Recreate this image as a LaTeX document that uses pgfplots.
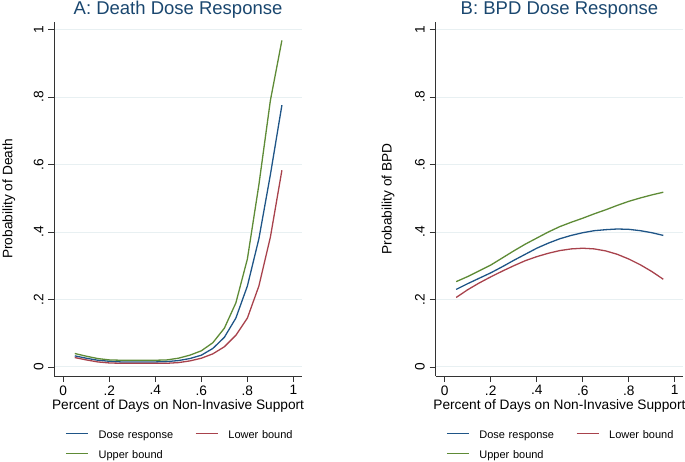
\documentclass[border=0pt]{standalone}
\usepackage{fontspec}
\setmainfont{Liberation Sans}
\usepackage{pgfplots}
\pgfplotsset{compat=1.18}
\definecolor{cblue}{HTML}{1F5587}
\definecolor{cred}{HTML}{A8424C}
\definecolor{cgreen}{HTML}{5E8B36}
\definecolor{ctitle}{HTML}{1A476F}
\definecolor{cgrid}{HTML}{E8F0F2}
\pgfplotsset{
  stata/.style={
    scale only axis, width=247.5pt, height=354pt,
    anchor=south west,
    xmin=-0.039, xmax=1.0365, ymin=-0.0267, ymax=1.0225,
    axis x line*=bottom, axis y line*=left,
    axis line style={black!80, line width=0.8pt, -},
    xtick={0,0.2,0.4,0.6,0.8,1}, xticklabels={0,.2,.4,.6,.8,1},
    ytick={0,0.2,0.4,0.6,0.8,1}, yticklabels={0,.2,.4,.6,.8,1},
    tick align=outside, major tick length=6pt,
    tick style={black!80, line width=0.8pt},
    ymajorgrids, grid style={cgrid, line width=1pt},
    ticklabel style={font=\fontsize{13.7}{14}\selectfont, black},
    yticklabel style={rotate=90, anchor=base},
    yticklabel shift=5pt,
    label style={font=\fontsize{13.7}{14}\selectfont, black},
    xlabel style={at={(axis description cs:0.5,-0.0946)}, anchor=base},
    every axis title shift=0pt,
    title style={at={(axis description cs:0.5,1.021)}, anchor=base, yshift=0pt, inner sep=0pt, text depth=0pt, font=\fontsize{18.5}{19}\selectfont, text=ctitle},
    legend columns=2,
    legend style={draw=none, fill=none, inner sep=0pt, outer sep=0pt,
      anchor=north west, row sep=9.5pt,
      font=\fontsize{11}{12}\selectfont,
      nodes={inner sep=0pt, text height=8pt, text depth=2.5pt, text width=86.5pt, anchor=west},
      /tikz/every odd column/.append style={column sep=10pt},
      /tikz/every even column/.append style={column sep=10pt}},
  },
  curve/.style={line width=1.3pt, mark=none, draw=#1,
    legend image code/.code={\draw[line width=1.3pt, draw=#1] (0pt,2.3pt) -- (22pt,2.3pt);}},
}
\begin{document}
\begin{tikzpicture}
\useasboundingbox (0,0) rectangle (685pt,461pt);
\begin{axis}[stata, at={(54.3pt,85pt)},
  title={A: Death Dose Response},
  xlabel={Percent of Days on Non-Invasive Support},
  ylabel={Probability of Death},
  ylabel style={at={(axis description cs:-0.169,0.5)}, anchor=base},
  legend style={at={(axis description cs:0.0444,-0.1534)}}]
\addplot[curve=cblue] coordinates {(0.05,0.033) (0.1,0.026) (0.15,0.020) (0.2,0.017) (0.25,0.015) (0.3,0.015) (0.35,0.015) (0.4,0.015) (0.45,0.016) (0.5,0.019) (0.55,0.025) (0.6,0.035) (0.65,0.055) (0.7,0.088) (0.75,0.145) (0.8,0.24) (0.85,0.38) (0.9,0.57) (0.95,0.776)};
\addlegendentry{Dose response}
\addplot[curve=cred] coordinates {(0.05,0.028) (0.1,0.021) (0.15,0.015) (0.2,0.012) (0.25,0.011) (0.3,0.011) (0.35,0.011) (0.4,0.011) (0.45,0.011) (0.5,0.013) (0.55,0.018) (0.6,0.026) (0.65,0.039) (0.7,0.06) (0.75,0.094) (0.8,0.145) (0.85,0.24) (0.9,0.385) (0.95,0.583)};
\addlegendentry{Lower bound}
\addplot[curve=cgreen] coordinates {(0.05,0.040) (0.1,0.032) (0.15,0.025) (0.2,0.021) (0.25,0.020) (0.3,0.020) (0.35,0.020) (0.4,0.020) (0.45,0.021) (0.5,0.026) (0.55,0.035) (0.6,0.048) (0.65,0.072) (0.7,0.115) (0.75,0.19) (0.8,0.32) (0.85,0.54) (0.9,0.79) (0.95,0.968)};
\addlegendentry{Upper bound}
\end{axis}
\begin{axis}[stata, at={(435.7pt,85pt)},
  title={B: BPD Dose Response},
  xlabel={Percent of Days on Non-Invasive Support},
  ylabel={Probability of BPD},
  ylabel style={at={(axis description cs:-0.178,0.5)}, anchor=base},
  legend style={at={(axis description cs:0.042,-0.1534)}}]
\addplot[curve=cblue] coordinates {(0.05,0.230) (0.1,0.247) (0.15,0.263) (0.2,0.279) (0.25,0.297) (0.3,0.316) (0.35,0.334) (0.4,0.352) (0.45,0.367) (0.5,0.380) (0.55,0.390) (0.6,0.398) (0.65,0.404) (0.7,0.407) (0.75,0.409) (0.8,0.408) (0.85,0.404) (0.9,0.398) (0.95,0.390)};
\addlegendentry{Dose response}
\addplot[curve=cred] coordinates {(0.05,0.206) (0.1,0.229) (0.15,0.249) (0.2,0.267) (0.25,0.284) (0.3,0.300) (0.35,0.315) (0.4,0.327) (0.45,0.337) (0.5,0.345) (0.55,0.350) (0.6,0.352) (0.65,0.350) (0.7,0.344) (0.75,0.334) (0.8,0.320) (0.85,0.303) (0.9,0.283) (0.95,0.260)};
\addlegendentry{Lower bound}
\addplot[curve=cgreen] coordinates {(0.05,0.253) (0.1,0.268) (0.15,0.285) (0.2,0.302) (0.25,0.323) (0.3,0.344) (0.35,0.364) (0.4,0.382) (0.45,0.400) (0.5,0.416) (0.55,0.429) (0.6,0.441) (0.65,0.454) (0.7,0.466) (0.75,0.479) (0.8,0.491) (0.85,0.501) (0.9,0.510) (0.95,0.518)};
\addlegendentry{Upper bound}
\end{axis}
\end{tikzpicture}
\end{document}
